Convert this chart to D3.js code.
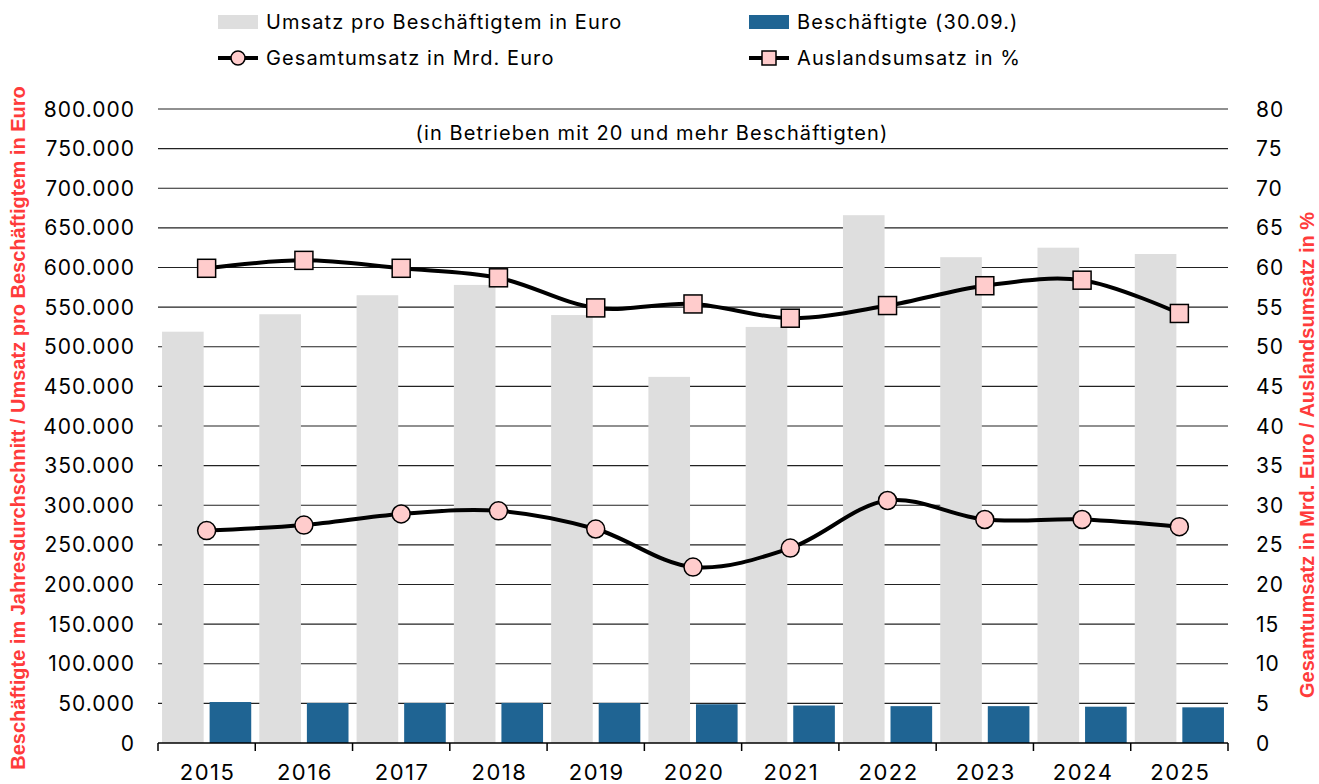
<!DOCTYPE html>
<html>
<head>
<meta charset="utf-8">
<script src="https://cdn.jsdelivr.net/npm/d3@7.9.0/dist/d3.min.js"></script>
<style>
  body { margin: 0; background: #fff; }
  svg { font-family: Inter, "Liberation Sans", Arial, sans-serif; }
  .red-title { font-family: "Liberation Sans", Arial, sans-serif; }
</style>
</head>
<body>
<svg id="chart" width="1319" height="784"></svg>
<script>
// data
const years = ['2015', '2016', '2017', '2018', '2019', '2020', '2021', '2022', '2023', '2024', '2025'];
const umsatzProKopf = [519000, 541000, 565000, 578000, 540000, 462000, 525000, 666000, 613000, 625000, 617000];
const beschaeftigte = [51700, 50500, 50500, 50600, 50500, 48900, 47300, 46500, 46500, 45800, 45000];
const gesamtumsatz = [26.8, 27.5, 28.9, 29.3, 27.0, 22.2, 24.6, 30.6, 28.2, 28.2, 27.3];
const auslandsumsatz = [59.9, 60.9, 59.9, 58.7, 54.9, 55.4, 53.6, 55.2, 57.7, 58.4, 54.2];
const leftTicks = d3.range(0, 800001, 50000);
const rightTicks = d3.range(0, 81, 5);

const svg = d3.select('#chart');
const red = '#ff3b3b';
const markerFill = '#ffcccc';

const plot = {left: 158, right: 1228, top: 109, bottom: 743};

let x = d3.scaleBand().domain(years).range([plot.left, plot.right]);
let inner = d3.scaleBand().domain(['umsatz', 'besch'])
    .range([0, x.bandwidth()]).paddingInner(0.125).paddingOuter(0.085);
let yLeft = d3.scaleLinear().domain([0, 800000]).range([plot.bottom, plot.top]);
let yRight = d3.scaleLinear().domain([0, 80]).range([plot.bottom, plot.top]);

const fmt = d3.formatLocale({decimal: ',', thousands: '.', grouping: [3], currency: ['', '€']}).format(',');

// gridlines
svg.append('g')
    .selectAll('line')
    .data(leftTicks.slice(1))
    .join('line')
    .attr('x1', plot.left).attr('x2', plot.right)
    .attr('y1', (d) => yLeft(d)).attr('y2', (d) => yLeft(d))
    .attr('stroke', '#222').attr('stroke-width', 1.2);

// bars
svg.append('g')
    .selectAll('rect')
    .data(umsatzProKopf)
    .join('rect')
    .attr('x', (d, i) => x(years[i]) + inner('umsatz'))
    .attr('width', inner.bandwidth())
    .attr('y', (d) => yLeft(d))
    .attr('height', (d) => plot.bottom - yLeft(d))
    .attr('fill', '#dedede');

svg.append('g')
    .selectAll('rect')
    .data(beschaeftigte)
    .join('rect')
    .attr('x', (d, i) => x(years[i]) + inner('besch'))
    .attr('width', inner.bandwidth())
    .attr('y', (d) => yLeft(d))
    .attr('height', (d) => plot.bottom - yLeft(d))
    .attr('fill', '#1f6493');

// x axis
let xAxis = svg.append('g');
xAxis.append('line')
    .attr('x1', plot.left).attr('x2', plot.right)
    .attr('y1', plot.bottom).attr('y2', plot.bottom)
    .attr('stroke', '#000').attr('stroke-width', 1.5);
xAxis.selectAll('line.tick')
    .data(years.concat(['end']))
    .join('line')
    .attr('class', 'tick')
    .attr('x1', (d) => d === 'end' ? plot.right : x(d))
    .attr('x2', (d) => d === 'end' ? plot.right : x(d))
    .attr('y1', plot.bottom).attr('y2', plot.bottom + 8)
    .attr('stroke', '#000').attr('stroke-width', 1.5);
xAxis.selectAll('text')
    .data(years)
    .join('text')
    .attr('x', (d) => x(d) + x.bandwidth() / 2 + 1)
    .attr('y', 780)
    .attr('text-anchor', 'middle')
    .attr('font-size', 22)
    .attr('letter-spacing', 1.5)
    .text((d) => d);

// y axes labels
svg.append('g')
    .selectAll('text')
    .data(leftTicks)
    .join('text')
    .attr('x', 135)
    .attr('y', (d) => yLeft(d))
    .attr('dy', '0.36em')
    .attr('text-anchor', 'end')
    .attr('font-size', 21)
    .attr('letter-spacing', 1)
    .text((d) => fmt(d));

svg.append('g')
    .selectAll('text')
    .data(rightTicks)
    .join('text')
    .attr('x', 1256)
    .attr('y', (d) => yRight(d))
    .attr('dy', '0.36em')
    .attr('font-size', 21)
    .attr('letter-spacing', 1)
    .text((d) => d);

// axis titles
svg.append('text')
    .attr('class', 'red-title')
    .attr('transform', 'translate(25,428) rotate(-90)')
    .attr('text-anchor', 'middle')
    .attr('font-size', 20)
    .attr('font-weight', 'bold')
    .attr('fill', red)
    .text('Beschäftigte im Jahresdurchschnitt / Umsatz pro Beschäftigtem in Euro');

svg.append('text')
    .attr('class', 'red-title')
    .attr('transform', 'translate(1314,455) rotate(-90)')
    .attr('text-anchor', 'middle')
    .attr('font-size', 20)
    .attr('font-weight', 'bold')
    .attr('fill', red)
    .text('Gesamtumsatz in Mrd. Euro / Auslandsumsatz in %');

// note
svg.append('text')
    .attr('x', 652).attr('y', 140)
    .attr('text-anchor', 'middle')
    .attr('font-size', 20)
    .attr('letter-spacing', 1.1)
    .text('(in Betrieben mit 20 und mehr Beschäftigten)');

// lines
let lineGen = d3.line()
    .x((d, i) => x(years[i]) + x.bandwidth() / 2)
    .y((d) => yRight(d))
    .curve(d3.curveCatmullRom.alpha(0.5));

[gesamtumsatz, auslandsumsatz].forEach((series) => {
    svg.append('path')
        .attr('d', lineGen(series))
        .attr('fill', 'none')
        .attr('stroke', '#000')
        .attr('stroke-width', 4);
});

svg.append('g')
    .selectAll('circle')
    .data(gesamtumsatz)
    .join('circle')
    .attr('cx', (d, i) => x(years[i]) + x.bandwidth() / 2)
    .attr('cy', (d) => yRight(d))
    .attr('r', 9)
    .attr('fill', markerFill)
    .attr('stroke', '#000').attr('stroke-width', 1.5);

svg.append('g')
    .selectAll('rect')
    .data(auslandsumsatz)
    .join('rect')
    .attr('x', (d, i) => x(years[i]) + x.bandwidth() / 2 - 9)
    .attr('y', (d) => yRight(d) - 9)
    .attr('width', 18).attr('height', 18)
    .attr('fill', markerFill)
    .attr('stroke', '#000').attr('stroke-width', 1.5);

// legend
let legend = svg.append('g').attr('font-size', 20).attr('letter-spacing', 1.1);
let legendItems = [
    {label: 'Umsatz pro Beschäftigtem in Euro', type: 'bar', color: '#dedede', x: 218, y: 22},
    {label: 'Beschäftigte (30.09.)', type: 'bar', color: '#1f6493', x: 749, y: 22},
    {label: 'Gesamtumsatz in Mrd. Euro', type: 'circle', x: 218, y: 58},
    {label: 'Auslandsumsatz in %', type: 'square', x: 749, y: 58}
];
legendItems.forEach((d) => {
    let g = legend.append('g').attr('transform', `translate(${d.x},${d.y})`);
    if (d.type === 'bar') {
        g.append('rect').attr('x', 0).attr('y', -7).attr('width', 40).attr('height', 14).attr('fill', d.color);
    } else {
        g.append('line').attr('x1', 0).attr('x2', 40).attr('stroke', '#000').attr('stroke-width', 4);
        if (d.type === 'circle') {
            g.append('circle').attr('cx', 20).attr('r', 7)
                .attr('fill', markerFill).attr('stroke', '#000').attr('stroke-width', 1.5);
        } else {
            g.append('rect').attr('x', 13).attr('y', -7).attr('width', 14).attr('height', 14)
                .attr('fill', markerFill).attr('stroke', '#000').attr('stroke-width', 1.5);
        }
    }
    g.append('text').attr('x', 48).attr('dy', '0.36em').text(d.label);
});
</script>
</body>
</html>
